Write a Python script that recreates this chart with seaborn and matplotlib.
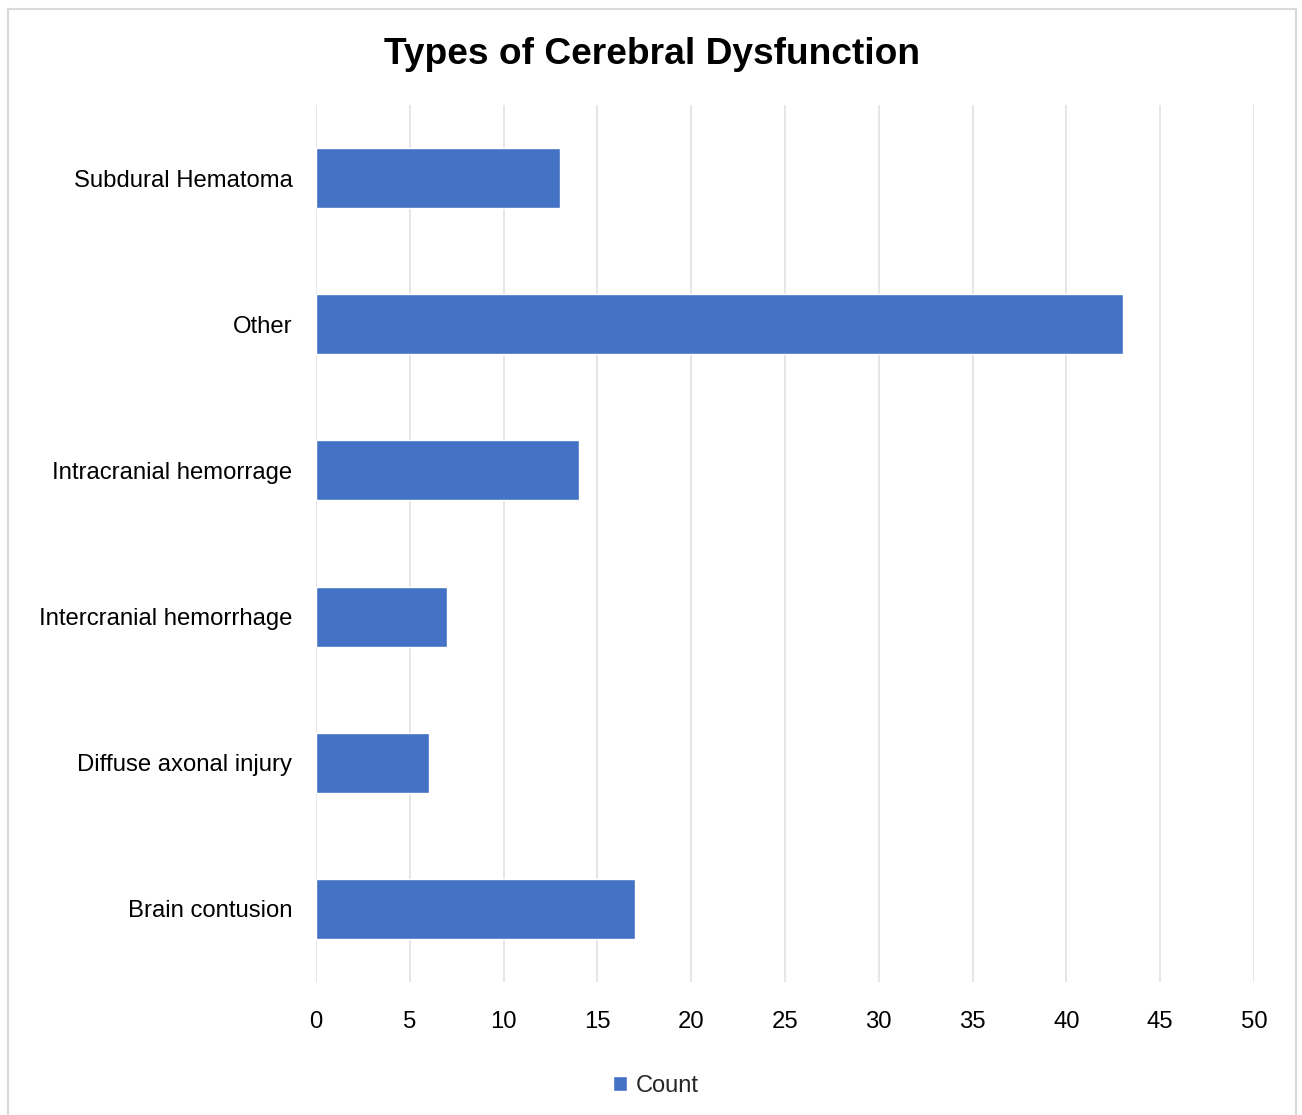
import matplotlib
matplotlib.use("Agg")
import matplotlib.pyplot as plt
from matplotlib.patches import Rectangle
import seaborn as sns
import pandas as pd

categories = [
    "Subdural Hematoma",
    "Other",
    "Intracranial hemorrage",
    "Intercranial hemorrhage",
    "Diffuse axonal injury",
    "Brain contusion",
]
counts = [13, 43, 14, 7, 6, 17]
x_ticks = [0, 5, 10, 15, 20, 25, 30, 35, 40, 45, 50]

sns.set_theme(style="white")
plt.rcParams["font.family"] = ["Liberation Sans", "DejaVu Sans"]

df = pd.DataFrame({"Type": categories, "Count": counts})

W, H = 1302, 1115
fig = plt.figure(figsize=(W / 100, H / 100), dpi=100)
fig.patch.set_facecolor("white")

# chart frame
fig.patches.append(Rectangle((8 / W, -0.01), (1296 - 8) / W, 1 - 9 / H + 0.01,
                             transform=fig.transFigure, fill=False,
                             edgecolor="#D9D9D9", linewidth=1.5, zorder=0))

ax = fig.add_axes([316 / W, 1 - 982 / H, (1254 - 316) / W, (982 - 105) / H])
sns.barplot(data=df, y="Type", x="Count", order=categories, orient="h",
            color="#4472C4", saturation=1, width=0.41, label="Count", ax=ax)
handles, labels = ax.get_legend_handles_labels()
if ax.get_legend() is not None:
    ax.get_legend().remove()

ax.set_xlim(0, 50)
ax.set_xticks(x_ticks)
ax.set_xticklabels([str(t) for t in x_ticks])
ax.set_xlabel("")
ax.set_ylabel("")
ax.grid(axis="x", color="#E2E2E2", linewidth=1.2)
ax.set_axisbelow(True)
for s in ax.spines.values():
    s.set_visible(False)
ax.tick_params(axis="both", length=0, labelsize=17.2, colors="black")
ax.tick_params(axis="y", pad=17)
ax.tick_params(axis="x", pad=21)

fig.text(652 / W, 1 - 55 / H, "Types of Cerebral Dysfunction", ha="center",
         va="center", fontsize=26.7, fontweight="bold", color="black")

fig.legend(handles[:1], labels[:1], loc="center", bbox_to_anchor=(656 / W, 1 - 1086 / H),
           frameon=False, fontsize=17, handlelength=0.6, handleheight=0.6,
           handletextpad=0.35)

fig.savefig("out.png", dpi=100)
